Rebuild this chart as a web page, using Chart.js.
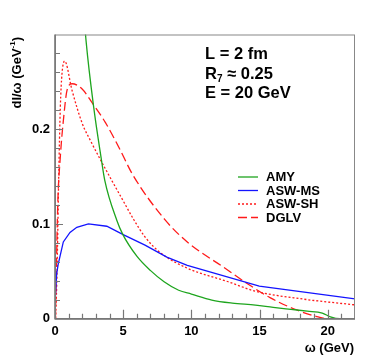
<!DOCTYPE html>
<html>
<head>
<meta charset="utf-8">
<script src="https://cdn.jsdelivr.net/npm/chart.js@4/dist/chart.umd.min.js"></script>
<style>
  html, body { margin: 0; padding: 0; background: #fff; }
  canvas { display: block; }
</style>
</head>
<body>
<canvas id="spec" width="374" height="355"></canvas>
<script>
// 스펙트럼 값
const amyX = [2.0, 2.28, 2.84, 3.38, 3.65, 4.53, 4.97, 6.0, 6.99, 8.0, 9.07, 10.0, 11.5, 13.0, 14.7, 16.0, 17.3, 18.5, 19.6, 20.2, 20.9, 22.0];
const amyY = [0.345, 0.293, 0.223, 0.170, 0.146, 0.104, 0.089, 0.066, 0.051, 0.039, 0.030, 0.026, 0.0197, 0.0165, 0.0144, 0.012, 0.0099, 0.008, 0.006, 0.002, 0.0, 0.0];

const msX = [0.0, 0.12, 0.24, 0.61, 1.1, 1.6, 2.45, 3.8, 5.0, 6.6, 8.2, 9.7, 14.98, 22.0];
const msY = [0.016, 0.047, 0.058, 0.081, 0.091, 0.0965, 0.100, 0.0976, 0.0888, 0.0776, 0.065, 0.0562, 0.0344, 0.021];

const shX = [0.05, 0.15, 0.27, 0.39, 0.51, 0.71, 1.25, 2.0, 2.6, 3.4, 4.2, 4.9, 5.76, 6.6, 7.7, 9.68, 12.7, 14.7, 18.2, 22.0];
const shY = [0.0, 0.05, 0.148, 0.223, 0.258, 0.272, 0.241, 0.206, 0.188, 0.166, 0.145, 0.127, 0.105, 0.0863, 0.070, 0.0535, 0.039, 0.029, 0.0207, 0.0146];

const dglvX = [0.03, 0.1, 0.2, 0.39, 0.64, 0.88, 1.25, 1.99, 2.72, 3.7, 4.68, 5.7, 8.09, 9.7, 12.5, 14.0, 15.8, 17.5, 19.3, 20.0, 22.0];
const dglvY = [0.0, 0.05, 0.12, 0.171, 0.213, 0.241, 0.248, 0.2425, 0.228, 0.207, 0.181, 0.152, 0.104, 0.081, 0.053, 0.038, 0.022, 0.0105, 0.0018, 0.0, 0.0];

const labels = ['AMY', 'ASW-MS', 'ASW-SH', 'DGLV'];
const xTicks = [0, 5, 10, 15, 20];
const yTicks = [0, 0.1, 0.2];

const FONT = '"Liberation Sans", Arial, sans-serif';

function pts(xs, ys) {
    return xs.map((x, i) => ({ x: x, y: ys[i] }));
}

// 축 눈금 (안쪽으로), 테두리
const framePlugin = {
    id: 'frame',
    afterDatasetsDraw(chart) {
        const ctx = chart.ctx;
        const a = chart.chartArea;
        const xs = chart.scales.x, ys = chart.scales.y;
        ctx.save();
        ctx.strokeStyle = '#888';
        ctx.lineWidth = 1;
        ctx.strokeRect(a.left + 0.5, a.top + 0.5, a.right - a.left - 1, a.bottom - a.top);
        ctx.lineWidth = 1.6;
        ctx.strokeStyle = '#777';
        ctx.beginPath();
        ctx.moveTo(a.left, a.top);
        ctx.lineTo(a.left, a.bottom);
        ctx.lineTo(a.right, a.bottom);
        ctx.stroke();

        ctx.lineWidth = 1.2;
        ctx.beginPath();
        for (let i = 1; i <= 21; i++) {
            const px = Math.round(xs.getPixelForValue(i)) + 0.5;
            const len = i % 5 === 0 ? 9 : 5;
            ctx.moveTo(px, a.bottom);
            ctx.lineTo(px, a.bottom - len);
        }
        for (let j = 1; j < 15; j++) {
            const py = Math.round(ys.getPixelForValue(j * 0.02)) + 0.5;
            const len = j % 5 === 0 ? 8 : 5;
            ctx.moveTo(a.left, py);
            ctx.lineTo(a.left + len, py);
        }
        ctx.stroke();
        ctx.restore();
    }
};

// 글자: 축 제목, 설명, 범례
const textPlugin = {
    id: 'texts',
    afterDraw(chart) {
        const ctx = chart.ctx;
        ctx.save();
        ctx.fillStyle = '#000';

        // y축 제목
        ctx.save();
        ctx.translate(20.5, 37);
        ctx.rotate(-Math.PI / 2);
        ctx.font = 'bold 13px ' + FONT;
        ctx.textBaseline = 'alphabetic';
        ctx.textAlign = 'left';
        const p1 = 'dI/ω (GeV', sup = '-1', p2 = ')';
        const w1 = ctx.measureText(p1).width;
        ctx.font = 'bold 8px ' + FONT;
        const ws = ctx.measureText(sup).width;
        ctx.font = 'bold 13px ' + FONT;
        const w2 = ctx.measureText(p2).width;
        let x0 = -(w1 + ws + w2);
        ctx.fillText(p1, x0, 0);
        ctx.font = 'bold 8px ' + FONT;
        ctx.fillText(sup, x0 + w1, -6);
        ctx.font = 'bold 13px ' + FONT;
        ctx.fillText(p2, x0 + w1 + ws, 0);
        ctx.restore();

        // x축 제목
        ctx.font = 'bold 13px ' + FONT;
        ctx.textAlign = 'right';
        ctx.textBaseline = 'alphabetic';
        ctx.fillText('ω (GeV)', 354, 352);

        // 설명 글
        ctx.textAlign = 'left';
        ctx.font = 'bold 16.5px ' + FONT;
        ctx.fillText('L = 2 fm', 205, 59);
        ctx.fillText('R', 205, 78.5);
        const rw = ctx.measureText('R').width;
        ctx.font = 'bold 10px ' + FONT;
        ctx.fillText('7', 205 + rw, 82);
        const sw = ctx.measureText('7').width;
        ctx.font = 'bold 16.5px ' + FONT;
        ctx.fillText(' \u2248 0.25', 205 + rw + sw, 78.5);
        ctx.fillText('E = 20 GeV', 205, 98);

        // 범례
        ctx.font = 'bold 13px ' + FONT;
        ctx.textBaseline = 'middle';
        chart.data.datasets.forEach((ds, i) => {
            const y = 177 + i * 13.5;
            ctx.strokeStyle = ds.borderColor;
            ctx.lineWidth = ds.borderWidth;
            ctx.setLineDash(ds.borderDash || []);
            ctx.beginPath();
            ctx.moveTo(238, y);
            ctx.lineTo(258, y);
            ctx.stroke();
            ctx.setLineDash([]);
            ctx.fillText(ds.label, 266, y + 0.5);
        });
        ctx.restore();
    }
};

const ctx = document.getElementById('spec').getContext('2d');
const chart = new Chart(ctx, {
    type: 'scatter',
    data: {
        datasets: [
            { label: labels[0], data: pts(amyX, amyY), borderColor: '#1ea51e', borderWidth: 1.3,
              showLine: true, pointRadius: 0, cubicInterpolationMode: 'monotone' },
            { label: labels[1], data: pts(msX, msY), borderColor: '#1414ff', borderWidth: 1.3,
              showLine: true, pointRadius: 0, tension: 0 },
            { label: labels[2], data: pts(shX, shY), borderColor: '#ff1a1a', borderWidth: 1.3,
              borderDash: [2, 2], showLine: true, pointRadius: 0, cubicInterpolationMode: 'monotone' },
            { label: labels[3], data: pts(dglvX, dglvY), borderColor: '#ff1a1a', borderWidth: 1.3,
              borderDash: [9, 4], showLine: true, pointRadius: 0, cubicInterpolationMode: 'monotone' }
        ]
    },
    options: {
        responsive: false,
        animation: false,
        layout: { padding: { top: 34.5, right: 19, left: 0, bottom: 0 } },
        plugins: { legend: { display: false }, tooltip: { enabled: false } },
        scales: {
            x: {
                type: 'linear', min: 0, max: 22,
                grid: { display: false, drawTicks: false },
                border: { display: false },
                afterFit: s => { s.height = 36.3; },
                ticks: {
                    stepSize: 5, autoSkip: false, maxRotation: 0, padding: 5,
                    color: '#000', font: { family: FONT, size: 13, weight: 'bold' },
                    callback: v => xTicks.includes(v) ? String(v) : ''
                }
            },
            y: {
                type: 'linear', min: 0, max: 0.3,
                grid: { display: false, drawTicks: false },
                border: { display: false },
                afterFit: s => { s.width = 55; },
                ticks: {
                    stepSize: 0.1, autoSkip: false, padding: 5,
                    color: '#000', font: { family: FONT, size: 13, weight: 'bold' },
                    callback: v => {
                        const t = yTicks.find(k => Math.abs(k - v) < 1e-6);
                        return t === undefined ? '' : (t === 0 ? '0' : t.toFixed(1));
                    }
                }
            }
        }
    },
    plugins: [framePlugin, textPlugin]
});
</script>
</body>
</html>
